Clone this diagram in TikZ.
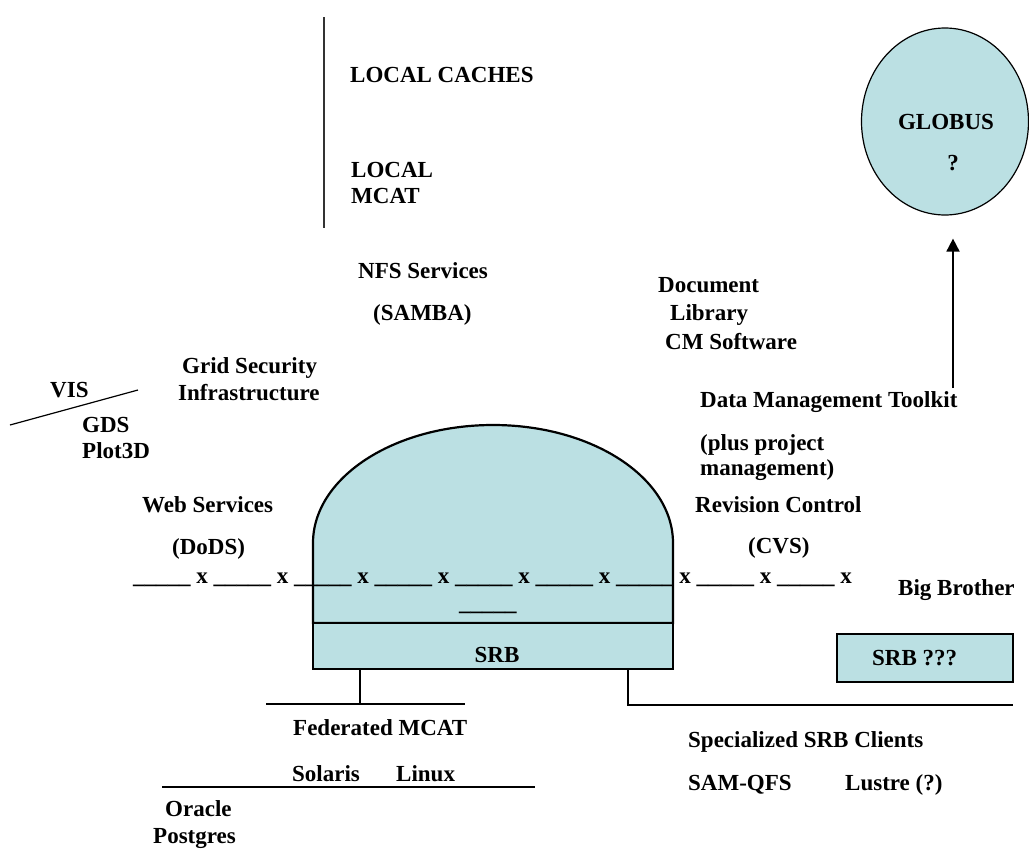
\documentclass[tikz,border=0pt]{standalone}
\usepackage{fontspec}
\setmainfont{Liberation Serif}
\usetikzlibrary{positioning, arrows.meta, shapes.geometric}
\definecolor{srbfill}{RGB}{187,224,227}
\newcommand{\blanks}{\_\_\_\_\_}

\begin{document}
\begin{tikzpicture}[
        x=1pt, y=-1pt,
        font=\fontsize{23}{27.5}\selectfont\bfseries,
        lbl/.style={inner sep=0pt, anchor=base west},
        wire/.style={line width=1.2pt},
        srbbox/.style={rectangle, draw, line width=2.2pt, fill=srbfill, minimum width=360pt, minimum height=46pt, inner sep=0pt, outer sep=0pt},
        globe/.style={ellipse, draw, line width=1.2pt, fill=srbfill, minimum width=167pt, minimum height=187pt, inner sep=0pt},
        arrow/.style={line width=1.8pt, -{Triangle[length=13pt, width=13pt]}}
    ]
    \useasboundingbox (0,0) rectangle (1029,849);

    % local caches
    \coordinate (cachetop) at (324,17);
    \coordinate (cachebot) at (324,228);
    \draw[wire, black!80] (cachetop) -- (cachebot);
    \node[lbl] (lcache) at (350,82) {LOCAL CACHES};
    \node[lbl] (llocal) at (351,177) {LOCAL};
    \node[lbl] (lmcat) at (351,203) {MCAT};

    % globus
    \node[globe] (globus) at (945,121.5) {};
    \node[inner sep=0pt, anchor=base] (globustxt) at (946,129) {GLOBUS};
    \node[inner sep=0pt, anchor=base] (globusq) at (953,170) {?};

    % services
    \node[lbl] (nfs) at (358,278) {NFS Services};
    \node[lbl] (samba) at (373,320) {(SAMBA)};
    \node[lbl] (doc) at (658,292) {Document};
    \node[lbl] (lib) at (670,320) {Library};
    \node[lbl] (cm) at (665,349) {CM Software};
    \node[lbl] (gsi) at (182,373) {Grid Security};
    \node[lbl] (infra) at (178,400) {Infrastructure};
    \node[lbl] (vis) at (50,397) {VIS};
    \node[lbl] (gds) at (82,432) {GDS};
    \node[lbl] (plot) at (82,458) {Plot3D};
    \coordinate (visa) at (10,425);
    \coordinate (visb) at (138,390);
    \draw[wire] (visa) -- (visb);
    \node[lbl] (web) at (142,512) {Web Services};
    \node[lbl] (dods) at (172,554) {(DoDS)};
    \node[lbl] (dmt) at (700,407) {Data Management Toolkit};
    \node[lbl] (plus) at (700,450) {(plus project};
    \node[lbl] (mgmt) at (700,475) {management)};
    \node[lbl] (rev) at (695,512) {Revision Control};
    \node[lbl] (cvs) at (748,553) {(CVS)};
    \node[lbl] (bigbro) at (898,595) {Big Brother};

    \coordinate (dmtop) at (953,388);
    \draw[arrow, shorten >=23pt] (dmtop) -- (dmtop |- globus.south);

    % srb dome
    \node[srbbox] (srb) at (493,646) {};
    \draw[line width=2.2pt, fill=srbfill] (srb.north west) -- ++(0,-80)
        arc[start angle=180, end angle=0, x radius=180pt, y radius=118pt]
        -- (srb.north east) -- cycle;
    \node[srbbox] (srb) at (493,646) {};
    \node[inner sep=0pt, anchor=base] (srbtxt) at (497,662) {SRB};
    \node[lbl] (xline) at (133,583) {\blanks{} x \blanks{} x \blanks{} x \blanks{} x \blanks{} x \blanks{} x \blanks{} x \blanks{} x \blanks{} x};
    \node[lbl] (xgap) at (459,610) {\blanks};

    \node[rectangle, draw, line width=1.2pt, fill=srbfill, minimum width=176pt, minimum height=48pt] (srbq) at (925,658) {};
    \node[lbl] (srbqtxt) at (872,665) {SRB ???};

    % federated mcat
    \coordinate (fedjoin) at (360,704);
    \coordinate (fedleft) at (266,704);
    \coordinate (fedright) at (465,704);
    \draw[wire] (fedjoin |- srb.south) -- (fedjoin);
    \draw[wire] (fedleft) -- (fedright);
    \node[lbl] (fed) at (293,735) {Federated MCAT};
    \node[lbl] (solaris) at (292,781) {Solaris};
    \node[lbl] (linux) at (396,781) {Linux};
    \coordinate (osleft) at (162,787);
    \coordinate (osright) at (535,787);
    \draw[wire] (osleft) -- (osright);
    \node[lbl] (oracle) at (165,816) {Oracle};
    \node[lbl] (postgres) at (153,843) {Postgres};

    % clients
    \coordinate (clijoin) at (628,705);
    \coordinate (cliend) at (1013,705);
    \draw[wire] (clijoin |- srb.south) -- (clijoin) -- (cliend);
    \node[lbl] (clients) at (688,747) {Specialized SRB Clients};
    \node[lbl] (samqfs) at (688,790) {SAM-QFS};
    \node[lbl] (lustre) at (845,790) {Lustre (?)};
\end{tikzpicture}
\end{document}
